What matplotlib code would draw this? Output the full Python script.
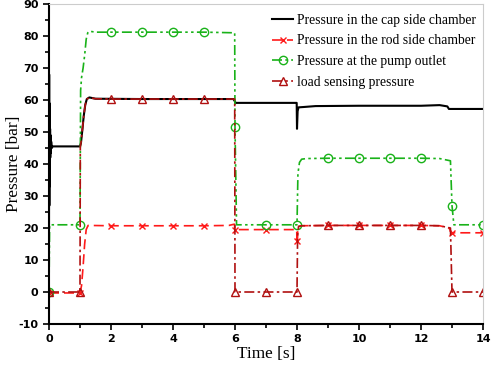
import numpy as np
import matplotlib
matplotlib.use("Agg")
import matplotlib.pyplot as plt
from matplotlib.ticker import MultipleLocator

plt.rcParams["axes.unicode_minus"] = False

# cap side chamber pressure (black)
cap_t = [0, 0.005, 0.01, 0.015, 0.02, 0.025, 0.03, 0.035, 0.04, 0.05, 0.06, 0.07, 0.09, 0.12,
         1.0, 1.03, 1.08, 1.12, 1.17, 1.22, 1.3, 1.5, 3, 5.95,
         6.0, 6.02, 7.99, 8.0, 8.02, 8.05, 8.2, 8.6, 10, 12.0, 12.6, 12.85, 12.9, 14]
cap_p = [20, 68, 27, 59, 33, 55, 38, 51, 42, 49, 43.5, 47, 45, 45.5,
         45.5, 46.5, 51, 55, 58.5, 60.3, 60.8, 60.4, 60.3, 60.3,
         59.5, 59.1, 59.1, 51, 56.5, 57.7, 57.8, 58.1, 58.2, 58.2, 58.4, 58.0, 57.2, 57.2]

# rod side chamber pressure (red, x)
rod_t = [0, 1, 1.05, 1.1, 1.15, 1.2, 1.26, 1.3, 2, 3, 4, 5, 5.8, 5.98, 6, 7, 7.99, 8, 8.01, 8.03,
         8.15, 9, 10, 11, 12, 12.6, 12.9, 13, 14]
rod_p = [-0.3, -0.3, 2, 8, 15, 19.5, 20.8, 20.8, 20.7, 20.7, 20.7, 20.7, 20.8, 21.2, 19.5, 19.5, 19.5, 16, 15, 20.4,
         20.7, 20.8, 20.8, 20.8, 20.8, 20.7, 20.0, 18.5, 18.5]

# pump outlet pressure (green, circles)
pump_t = [0, 0.02, 1, 1.02, 1.05, 1.1, 1.15, 1.2, 1.25, 1.3, 1.5, 2, 3, 4, 5, 5.99, 6, 6.05,
          7, 8, 8.03, 8.08, 8.15, 8.3, 9, 10, 11, 12, 12.6, 12.95, 13, 13.06, 14]
pump_p = [0, 21, 21, 63, 67, 70, 74, 79, 81, 81.5, 81.2, 81.2, 81.2, 81.2, 81.2, 81.0, 51.5, 21,
          21, 21, 37, 40.5, 41.5, 41.7, 41.8, 41.8, 41.8, 41.8, 41.7, 41.0, 27, 21, 21]

# load sensing pressure (dark red, triangles)
ls_t = [0, 1, 1.01, 1.03, 1.08, 1.12, 1.17, 1.22, 1.3, 1.5, 2, 3, 4, 5, 5.99, 6, 7, 8, 8.02, 8.05,
        8.15, 9, 10, 11, 12, 12.6, 12.95, 13, 14]
ls_p = [0, 0, 45.5, 46.5, 51, 55, 58.5, 60.3, 60.7, 60.4, 60.3, 60.3, 60.3, 60.3, 60.3, 0, 0, 0, 18, 20.5,
        20.7, 20.8, 20.8, 20.8, 20.8, 20.7, 20.0, 0, 0]

labels = ["Pressure in the cap side chamber", "Pressure in the rod side chamber",
          "Pressure at the pump outlet", "load sensing pressure"]


def marker_idx(t):
    # markers on whole seconds
    return [i for i, v in enumerate(t) if float(v).is_integer()]


fig = plt.figure(figsize=(4.91, 3.65), dpi=100)
ax = fig.add_axes([49 / 491, 41 / 365, 434 / 491, 320 / 365])

ax.plot(cap_t, cap_p, color="black", lw=1.5, label=labels[0])
ax.plot(rod_t, rod_p, color="#ff1a1a", lw=1.2, ls=(0, (6, 3)), marker="x", ms=5,
        markevery=marker_idx(rod_t), label=labels[1])
ax.plot(pump_t, pump_p, color="#19b219", lw=1.2, ls=(0, (6, 2, 1.5, 2, 1.5, 2)), marker="o", ms=6,
        mfc="none", mew=1.0, markevery=marker_idx(pump_t), label=labels[2])
ax.plot(ls_t, ls_p, color="#b01010", lw=1.2, ls=(0, (6, 2, 1.5, 2)), marker="^", ms=5.5,
        mfc="none", mew=1.0, markevery=marker_idx(ls_t), label=labels[3])

ax.set_xlim(0, 14)
ax.set_ylim(-10, 90)
ax.xaxis.set_major_locator(MultipleLocator(2))
ax.xaxis.set_minor_locator(MultipleLocator(1))
ax.yaxis.set_major_locator(MultipleLocator(10))
ax.yaxis.set_minor_locator(MultipleLocator(5))
ax.tick_params(which="both", direction="out", width=1.2)
ax.tick_params(which="major", length=4, labelsize=8)
ax.tick_params(which="minor", length=3)
for lab in ax.get_xticklabels() + ax.get_yticklabels():
    lab.set_fontweight("bold")

for s in ["left", "bottom"]:
    ax.spines[s].set_linewidth(1.5)
for s in ["top", "right"]:
    ax.spines[s].set_color("#cccccc")
    ax.spines[s].set_linewidth(0.8)

ax.set_xlabel("Time [s]", family="Liberation Serif", fontsize=12.4, labelpad=1)
ax.set_ylabel("Pressure [bar]", family="Liberation Serif", fontsize=12.4)
ax.yaxis.set_label_coords(-0.062, 0.5)

ax.legend(loc="upper right", bbox_to_anchor=(1.007, 1.0), frameon=False,
          prop={"family": "Liberation Serif", "size": 9.85},
          handlelength=1.55, handletextpad=0.3, labelspacing=0.57, borderaxespad=0.3)

fig.savefig("out.png", dpi=100)
